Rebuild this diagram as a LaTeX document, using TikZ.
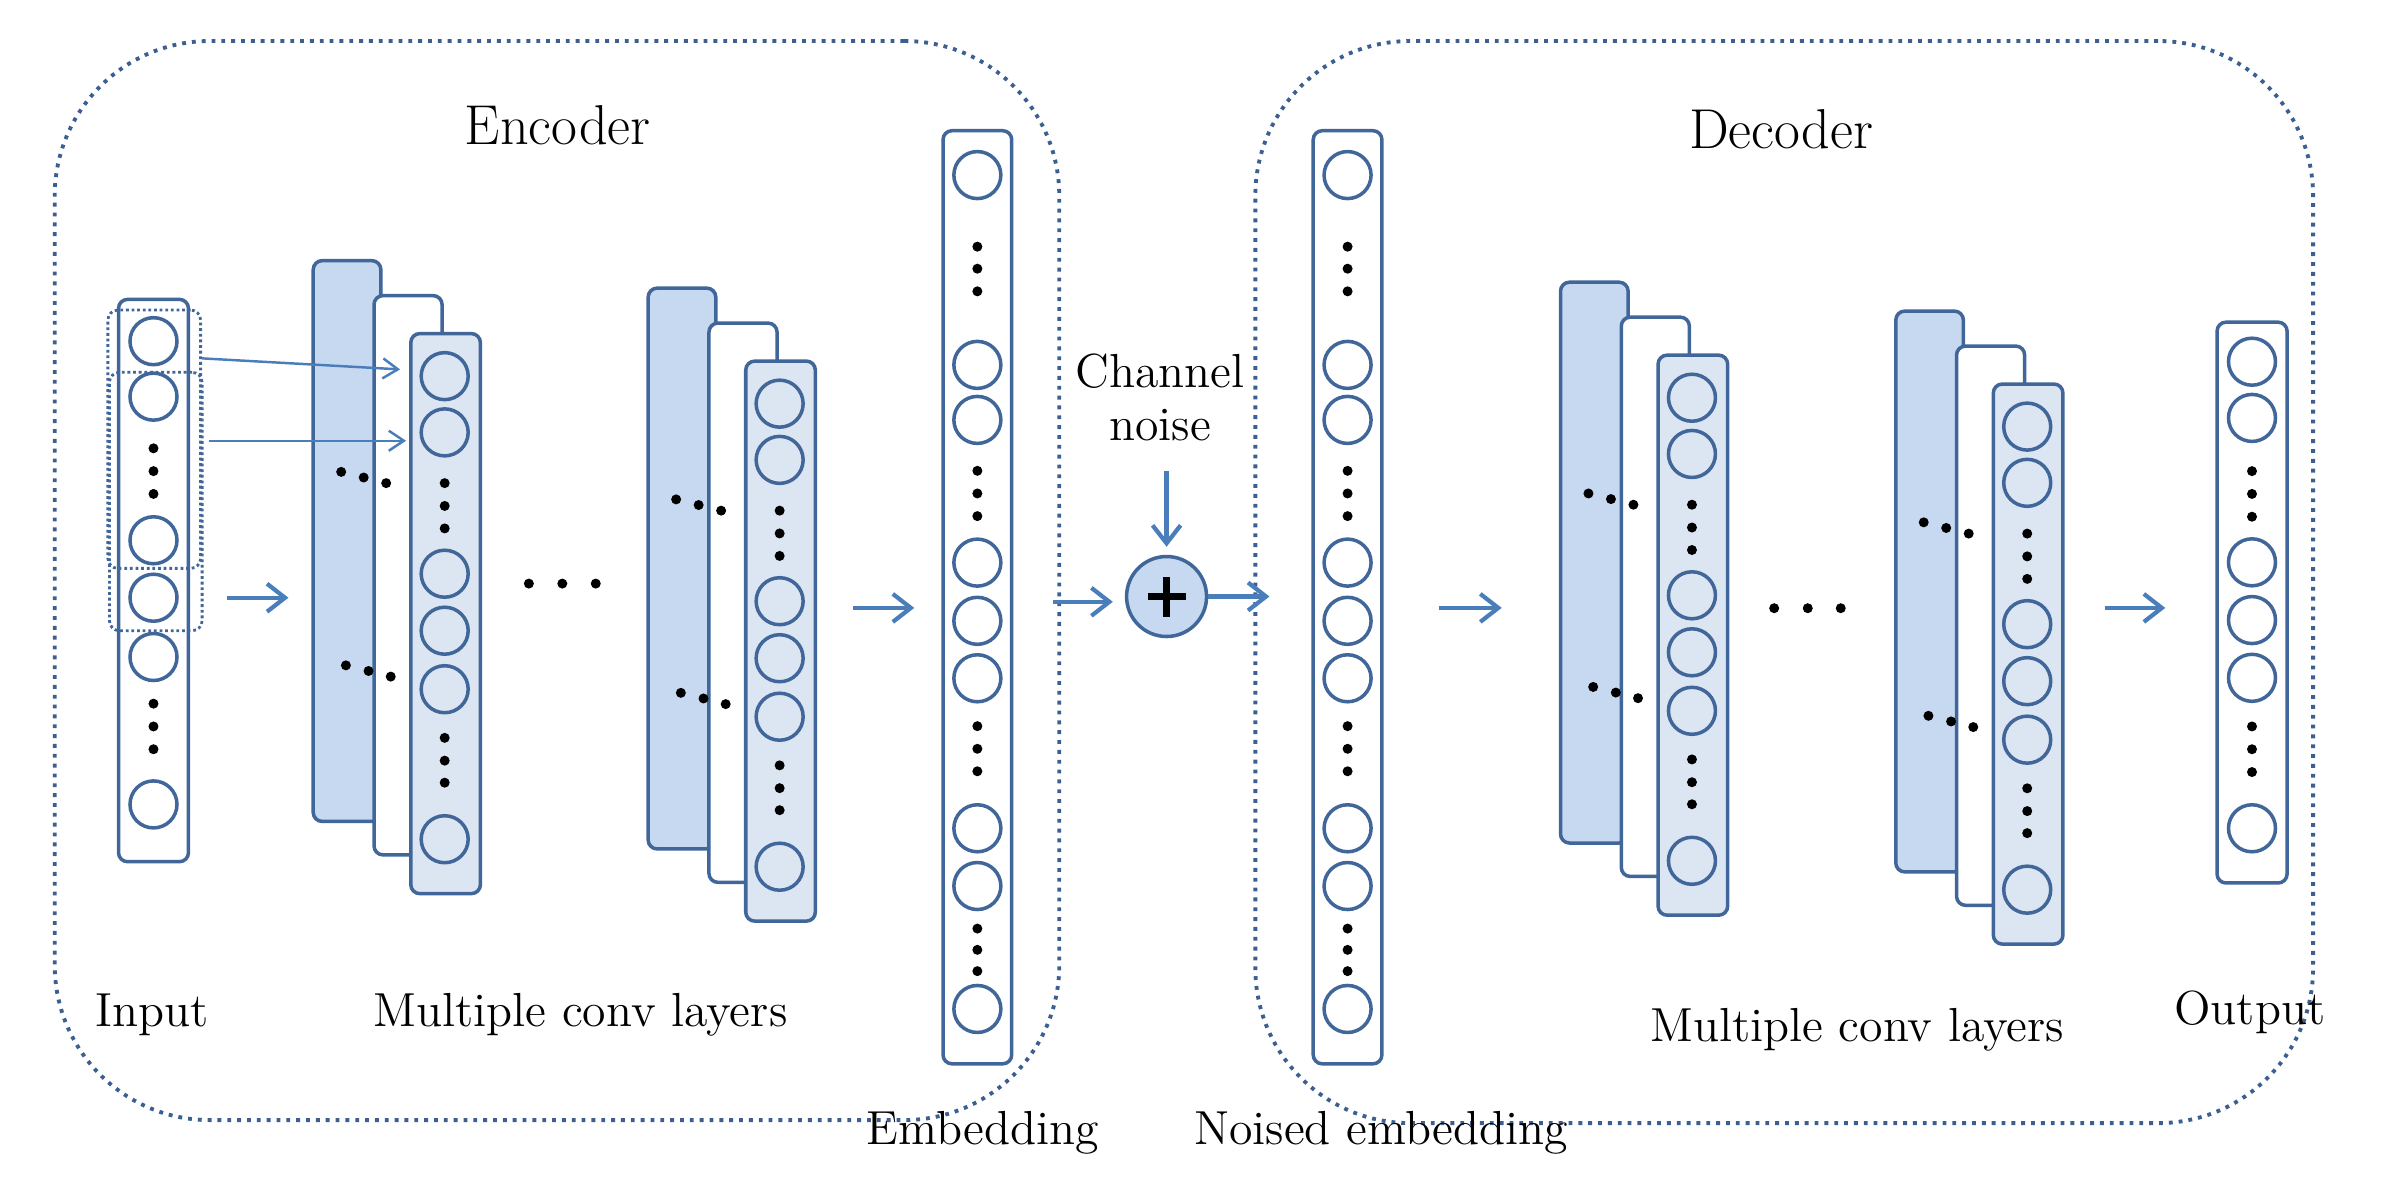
\documentclass[tikz,border=0pt]{standalone}
\usetikzlibrary{arrows.meta,fit}

\definecolor{edgeblue}{RGB}{65,103,154}
\definecolor{backfill}{RGB}{198,217,240}
\definecolor{frontfill}{RGB}{220,230,242}
\definecolor{arrowblue}{RGB}{74,126,187}
\definecolor{framedot}{RGB}{60,95,145}

\tikzset{
  layer/.style={draw=edgeblue, line width=1pt, rounded corners=0.09cm, inner sep=0pt},
  unit/.style={circle, draw=edgeblue, line width=1pt, minimum size=0.47cm, inner sep=0pt},
  arr/.style={draw=arrowblue, line width=1.2pt, -{Straight Barb[length=0.18cm, width=0.28cm]}},
  thinarr/.style={draw=arrowblue, line width=0.7pt, -{Straight Barb[length=0.15cm, width=0.2cm]}},
  frame/.style={draw=framedot, line width=1.1pt, dash pattern=on 1.1pt off 1.7pt, rounded corners=1.55cm, inner sep=0pt},
  window/.style={draw=edgeblue, line width=0.8pt, dash pattern=on 0.8pt off 0.8pt, rounded corners=0.1cm, inner sep=0pt},
  lbl/.style={font=\fontsize{13.6}{15}\selectfont, inner sep=0pt},
  title/.style={font=\fontsize{16}{19}\selectfont, inner sep=0pt}
}

\begin{document}
\begin{tikzpicture}[x=0.0152cm, y=-0.0152cm]
\useasboundingbox (0,0) rectangle (1568,788);

% dotted frames
\node[frame, fit={(36,27) (697,737)}] (enc) {};
\node[frame, fit={(826,27) (1522,739)}] (dec) {};
\node[title, anchor=base] (enctitle) at (367,95.4) {Encoder};
\node[title, anchor=base] (dectitle) at (1172,97.4) {Decoder};

% input
\node[layer, fit={(78,197) (124,567)}] (in) {};
\foreach \k/\y in {1/224.5,2/261,3/355.5,4/393.3,5/432.3,6/529.3}
  \node[unit] (in-\k) at (101,\y) {};
\foreach \y in {295,310,325,463,478,493}
  \fill (101,\y) circle (0.05cm);
\node[window, fit={(71,204) (132,374)}] (win1) {};
\node[window, fit={(72,245) (133,415)}] (win2) {};

% conv stacks
\foreach \st/\lx/\fy in {e1/206.1/219.5, e2/426.5/237.6, d1/1026.8/233.7, d2/1247.4/252.7} {
  \node[layer, fill=backfill, fit={(\lx,\fy-48) (\lx+44.5,\fy+321)}] (\st-back) {};
  \node[layer, fill=white, fit={(\lx+40,\fy-25) (\lx+84.8,\fy+343)}] (\st-mid) {};
  \node[layer, fill=frontfill, fit={(\lx+64.2,\fy) (\lx+110,\fy+368.5)}] (\st-front) {};
  \foreach \k/\dy in {1/28,2/65,3/158,4/195.5,5/234,6/332.7}
    \node[unit] (\st-\k) at (\lx+86.5,\fy+\dy) {};
  \foreach \dy in {98.4,113.4,128.2,266,281,295.5}
    \fill (\lx+86.5,\fy+\dy) circle (0.05cm);
  \foreach \dx/\dy in {18.4/91,33.2/94.7,48/98.4,21.5/218.3,36.4/222,51/225.7}
    \fill (\lx+\dx,\fy+\dy) circle (0.05cm);
}
\foreach \x in {348,370,392} \fill (\x,384) circle (0.05cm);
\foreach \x in {1167.4,1189.5,1211.2} \fill (\x,400.2) circle (0.05cm);

% embedding and noised embedding
\foreach \col/\x in {emb/643.1, nemb/886.7} {
  \node[layer, fit={(\x-22.6,86) (\x+22.6,700)}] (\col) {};
  \foreach \k/\y in {1/115.2,2/240.1,3/276.3,4/370.2,5/408.5,6/446.3,7/545,8/583,9/663.9}
    \node[unit] (\col-\k) at (\x,\y) {};
  \foreach \y in {162.3,176.8,191.7,309.8,324.7,339.6,477.8,492.7,507.5,611,625,639}
    \fill (\x,\y) circle (0.05cm);
}

% output
\node[layer, fit={(1458.8,212) (1504.9,581)}] (out) {};
\foreach \k/\y in {1/238,2/275,3/370,4/408,5/446,6/545}
  \node[unit] (out-\k) at (1481.8,\y) {};
\foreach \y in {310,325,340,478,493,508}
  \fill (1481.8,\y) circle (0.05cm);

% channel noise
\node[unit, fill=backfill, minimum size=0.8cm] (plus) at (767.6,392.5) {};
\draw[line width=1.8pt] ([xshift=-0.19cm]plus.center) -- ([xshift=0.19cm]plus.center);
\draw[line width=1.8pt] ([yshift=-0.2cm]plus.center) -- ([yshift=0.2cm]plus.center);
\node[lbl, align=center, anchor=north] (noise) at (763.3,232.4) {Channel\\noise};

% arrows
\draw[arr, shorten <=0.37cm, shorten >=0.23cm] (in.east |- 0,393.3) -- (e1-back.west |- 0,393.3);
\draw[thinarr, shorten >=0.09cm] (win1.east |- 0,235.8) -- (e1-front.west |- 0,243.4);
\draw[thinarr, shorten <=0.05cm, shorten >=0.03cm] (win2.east |- 0,290) -- (e1-front.west |- 0,290);
\draw[arr, shorten <=0.36cm, shorten >=0.27cm] (e2-front.east |- 0,400) -- (emb.west |- 0,400);
\draw[arr, shorten <=0.4cm, shorten >=0.12cm] (emb.east |- 0,396) -- (plus.west |- 0,396);
\draw[arr, shorten <=0.3cm, shorten >=0.08cm] (noise.south -| plus) -- (plus.north);
\draw[arr, shorten >=0.42cm] (plus.east) -- (nemb.west |- plus.east);
\draw[arr, shorten <=0.55cm, shorten >=0.57cm] (nemb.east |- 0,400) -- (d1-back.west |- 0,400);
\draw[arr, shorten <=0.4cm, shorten >=0.5cm] (d2-front.east |- 0,400) -- (out.west |- 0,400);

% labels
\node[lbl, anchor=base] (inlbl) at (100.3,675.4) {Input};
\node[lbl, anchor=base] (enclbl) at (382,675.4) {Multiple conv layers};
\node[lbl, anchor=base] (emblbl) at (646.7,753) {Embedding};
\node[lbl, anchor=base] (nemblbl) at (908.6,753) {Noised embedding};
\node[lbl, anchor=base] (declbl) at (1222,685.3) {Multiple conv layers};
\node[lbl, anchor=base] (outlbl) at (1480.4,674) {Output};
\end{tikzpicture}
\end{document}
